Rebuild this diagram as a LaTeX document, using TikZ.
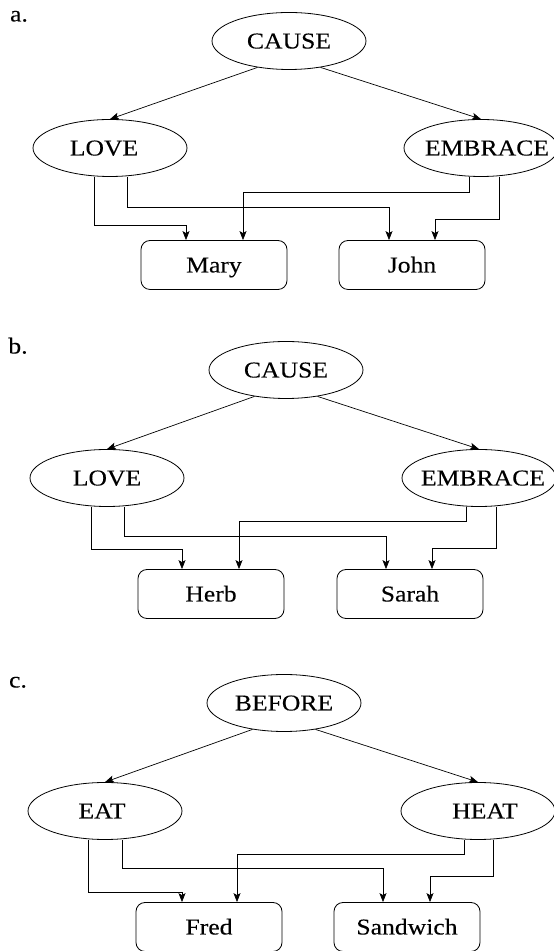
\documentclass[tikz,border=0pt]{standalone}
\usepackage{fontspec}
\setmainfont[FakeStretch=1.13,FakeBold=0.15]{Liberation Serif}
\usetikzlibrary{calc,arrows.meta,shapes.geometric}
\tikzset{
  every node/.style={font=\fontsize{22.7}{27}\selectfont, text height=15pt, text depth=0pt},
  oval/.style={draw, ellipse, line width=0.8pt, minimum width=154pt, minimum height=57pt, inner sep=0pt},
  box/.style={draw, rectangle, rounded corners=9pt, line width=0.8pt, minimum width=146pt, minimum height=49pt, inner sep=0pt},
  plabel/.style={inner sep=0pt},
  arr/.style={-{Stealth[length=9pt,width=7pt,inset=2pt]}, line width=0.7pt},
}
% text of zero width, moved right by #1
\newcommand{\ztxt}[2][0pt]{\makebox[0pt]{\hspace*{#1}\hspace*{#1}#2}}
\begin{document}
\begin{tikzpicture}[x=1pt,y=1pt]
\useasboundingbox (0,0) rectangle (554,951);
% ---------- panel a ----------
\node[plabel] (la) at (19,937) {a.};
\node[oval] (causeA) at (289,910) {\ztxt{CAUSE}};
\node[oval] (loveA) at (110,803) {\ztxt[-6pt]{LOVE}};
\node[oval] (embA) at (481,803) {\ztxt[6pt]{EMBRACE}};
\node[box] (mary) at (214,686) {Mary};
\node[box] (john) at (412,686) {John};
\draw[arr] (causeA.220) -- (loveA.north);
\draw[arr] (causeA.320) -- (embA.north);
\draw[arr] ($(loveA.south)+(-16,0)$) -- ++(0,-48) -| ($(mary.north)+(-28,0)$);
\draw[arr] ($(loveA.south)+(17,0)$) -- ++(0,-30) -| ($(john.north)+(-23,0)$);
\draw[arr] ($(embA.south)+(-12,0)$) -- ++(0,-15) -| ($(mary.north)+(29,0)$);
\draw[arr] ($(embA.south)+(18,0)$) -- ++(0,-42) -| ($(john.north)+(23,0)$);
% ---------- panel b ----------
\node[plabel] (lb) at (18,605) {b.};
\node[oval] (causeB) at (286,581) {\ztxt{CAUSE}};
\node[oval] (loveB) at (107,473) {\ztxt{LOVE}};
\node[oval] (embB) at (479,473) {\ztxt[4pt]{EMBRACE}};
\node[box] (herb) at (211,357) {Herb};
\node[box] (sarah) at (410,357) {Sarah};
\draw[arr] (causeB.220) -- (loveB.north);
\draw[arr] (causeB.320) -- (embB.north);
\draw[arr] ($(loveB.south)+(-16,0)$) -- ++(0,-42.5) -| ($(herb.north)+(-29,0)$);
\draw[arr] ($(loveB.south)+(17,0)$) -- ++(0,-29.5) -| ($(sarah.north)+(-24,0)$);
\draw[arr] ($(embB.south)+(-13,0)$) -- ++(0,-14.5) -| ($(herb.north)+(28,0)$);
\draw[arr] ($(embB.south)+(17,0)$) -- ++(0,-41.5) -| ($(sarah.north)+(22,0)$);
% ---------- panel c ----------
\node[plabel] (lc) at (18,271) {c.};
\node[oval] (before) at (284,248) {\ztxt{BEFORE}};
\node[oval] (eat) at (105,140) {\ztxt[-3pt]{EAT}};
\node[oval] (heat) at (478,140) {\ztxt[7pt]{HEAT}};
\node[box] (fred) at (209,24) {Fred};
\node[box] (sandwich) at (407,24) {Sandwich};
\draw[arr] (before.220) -- (eat.north);
\draw[arr] (before.320) -- (heat.north);
\draw[arr] ($(eat.south)+(-17,0)$) -- ++(0,-52.5) -| ($(fred.north)+(-27,0)$);
\draw[arr] ($(eat.south)+(17,0)$) -- ++(0,-28.5) -| ($(sandwich.north)+(-24,0)$);
\draw[arr] ($(heat.south)+(-14,0)$) -- ++(0,-14.5) -| ($(fred.north)+(28,0)$);
\draw[arr] ($(heat.south)+(15,0)$) -- ++(0,-36.5) -| ($(sandwich.north)+(23,0)$);
\end{tikzpicture}
\end{document}
